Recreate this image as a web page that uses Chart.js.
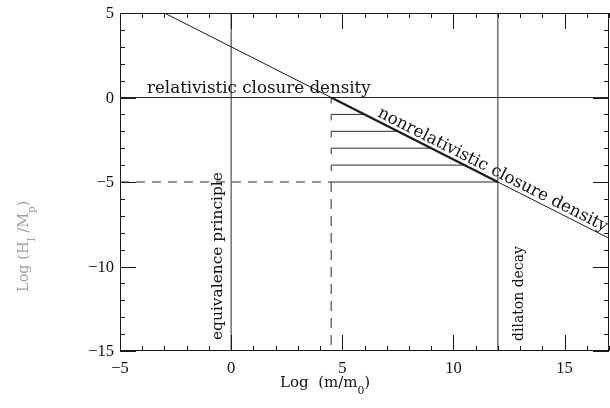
<!DOCTYPE html>
<html><head><meta charset="utf-8">
<script src="https://cdn.jsdelivr.net/npm/chart.js@4"></script>
<style>html,body{margin:0;padding:0;background:#fff}#wrap{width:610px;height:408px}</style>
</head><body><div id="wrap"><canvas id="c" width="610" height="408"></canvas></div>
<script>
// ---- data ----
const xRange = [-5, 17];
const yRange = [-15, 5];
const xTicks = [-5, 0, 5, 10, 15];
const yTicks = [5, 0, -5, -10, -15];
// nonrelativistic closure density line: knots
const diagX = [-3, 4.5, 12, 17];
const diagY = [5, 0, -5, -8.33];
// relativistic closure density
const relX = [-5, 17];
const relY = [0, 0];
// vertical constraint lines
const equivX = 0;
const dilatonX = 12;
// staircase
const stepLevels = [-1, -2, -3, -4, -5];
const stepStart = 4.5;
const stepEnd = [6, 7.5, 9, 10.5, 12];
// dashed guides
const dashY = -5;
const dashYFrom = -5, dashYTo = 4.5;
const dashX = 4.5;
const dashXTop = 0, dashXMid = -5, dashXBottom = -15;

const labels = {
  rel: 'relativistic closure density',
  nonrel: 'nonrelativistic closure density',
  equiv: 'equivalence principle',
  dilaton: 'dilaton decay'
};

// ---- datasets ----
const INK = '#1a1a1a';
function seg(x0, y0, x1, y1, extra) {
  return Object.assign({
    data: [{x: x0, y: y0}, {x: x1, y: y1}],
    showLine: true, pointRadius: 0, borderColor: INK, borderWidth: 1, fill: false
  }, extra || {});
}
const datasets = [];
datasets.push(seg(diagX[0], diagY[0], diagX[1], diagY[1]));
datasets.push(seg(diagX[1], diagY[1], diagX[2], diagY[2], {borderWidth: 2.2}));
datasets.push(seg(diagX[2], diagY[2], diagX[3], diagY[3]));
datasets.push(seg(relX[0], relY[0], relX[1], relY[1], {borderColor: '#2a2a2a'}));
datasets.push(seg(equivX, yRange[0], equivX, yRange[1], {borderColor: '#2a2a2a'}));
datasets.push(seg(dilatonX, yRange[0], dilatonX, yRange[1], {borderColor: '#2a2a2a'}));
stepLevels.forEach((lv, i) => datasets.push(seg(stepStart, lv, stepEnd[i], lv, {borderColor: '#2a2a2a'})));
datasets.push(seg(dashYFrom, dashY, dashYTo, dashY, {borderDash: [9, 7], borderColor: '#2a2a2a'}));
datasets.push(seg(dashX, dashXTop, dashX, dashXMid, {borderDash: [6, 10.9], borderColor: '#2a2a2a'}));
datasets.push(seg(dashX, dashXMid, dashX, dashXBottom, {borderDash: [10, 7], borderColor: '#2a2a2a'}));

const SERIF = '"DejaVu Serif", serif';
const TICKF = '"Liberation Serif", serif';

function fitSize(ctx, text, family, width) {
  ctx.font = '20px ' + family;
  return 20 * width / ctx.measureText(text).width;
}

const deco = {
  id: 'deco',
  afterDraw(chart) {
    const {ctx, chartArea: a, scales: {x, y}} = chart;
    ctx.save();
    ctx.strokeStyle = INK; ctx.lineWidth = 1;
    ctx.strokeRect(a.left + 0.5, a.top + 0.5, a.right - a.left - 1, a.bottom - a.top - 1);
    function ln(x0, y0, x1, y1) { ctx.beginPath(); ctx.moveTo(x0, y0); ctx.lineTo(x1, y1); ctx.stroke(); }
    for (let v = xRange[0]; v <= xRange[1]; v++) {
      const px = Math.round(x.getPixelForValue(v)) + 0.5;
      const L = (v % 5 === 0) ? 16 : 5;
      ln(px, a.bottom, px, a.bottom - L);
      ln(px, a.top, px, a.top + L);
    }
    for (let v = yRange[0]; v <= yRange[1]; v++) {
      const py = Math.round(y.getPixelForValue(v)) + 0.5;
      const L = (v % 5 === 0) ? 16 : 5;
      ln(a.left, py, a.left + L, py);
      ln(a.right, py, a.right - L, py);
    }
    // tick labels
    ctx.fillStyle = '#111';
    ctx.font = '16.5px ' + TICKF;
    ctx.textAlign = 'center'; ctx.textBaseline = 'middle';
    xTicks.forEach(v => {
      ctx.fillText(String(v).replace('-', '\u2212'), x.getPixelForValue(v), a.bottom + 18);
    });
    ctx.textAlign = 'right';
    yTicks.forEach(v => {
      ctx.fillText(String(v).replace('-', '\u2212'), a.left - 6, y.getPixelForValue(v) + 1);
    });
    ctx.textBaseline = 'alphabetic';
    ctx.textAlign = 'left';

    // relativistic closure density
    let s = fitSize(ctx, labels.rel, SERIF, 224);
    ctx.font = s + 'px ' + SERIF;
    ctx.fillText(labels.rel, 147, 93);

    // equivalence principle
    s = fitSize(ctx, labels.equiv, SERIF, 168);
    ctx.save(); ctx.translate(222, 340); ctx.rotate(-Math.PI / 2);
    ctx.font = s + 'px ' + SERIF; ctx.fillText(labels.equiv, 0, 0); ctx.restore();

    // dilaton decay
    s = fitSize(ctx, labels.dilaton, SERIF, 95);
    ctx.save(); ctx.translate(523, 341); ctx.rotate(-Math.PI / 2);
    ctx.font = s + 'px ' + SERIF; ctx.fillText(labels.dilaton, 0, 0); ctx.restore();

    // nonrelativistic along the line
    const p1 = {x: x.getPixelForValue(diagX[1]), y: y.getPixelForValue(diagY[1])};
    const p2 = {x: x.getPixelForValue(diagX[2]), y: y.getPixelForValue(diagY[2])};
    const ang = Math.atan2(p2.y - p1.y, p2.x - p1.x);
    const t = 0.262;
    const sx = p1.x + t * (p2.x - p1.x) + Math.sin(ang) * 4;
    const sy = p1.y + t * (p2.y - p1.y) - Math.cos(ang) * 4;
    s = fitSize(ctx, labels.nonrel, SERIF, 256);
    ctx.save(); ctx.translate(sx, sy); ctx.rotate(ang);
    ctx.font = s + 'px ' + SERIF; ctx.fillText(labels.nonrel, 0, 0); ctx.restore();

    function rich(parts, x0, y0, size, family) {
      let cx = x0;
      parts.forEach(p => {
        const fs = p.sub ? size * 0.72 : size;
        ctx.font = fs + 'px ' + family;
        ctx.fillText(p.t, cx, y0 + (p.sub ? size * 0.45 : 0));
        cx += ctx.measureText(p.t).width;
      });
    }
    // x title
    ctx.fillStyle = '#111';
    rich([{t: 'Log  (m/m'}, {t: '0', sub: true}, {t: ')'}], 280, 387, 15, SERIF);

    // y title (faint)
    ctx.save(); ctx.translate(28, 292); ctx.rotate(-Math.PI / 2);
    ctx.fillStyle = '#a0a0a0';
    rich([{t: 'Log (H'}, {t: 'I', sub: true}, {t: ' /M'}, {t: 'p', sub: true}, {t: ')'}], 0, 0, 14.5, SERIF);
    ctx.restore();

    ctx.restore();
  }
};

new Chart(document.getElementById('c'), {
  type: 'scatter',
  data: {datasets},
  options: {
    responsive: false, animation: false, devicePixelRatio: 1,
    layout: {padding: {left: 120, top: 13, right: 1, bottom: 57}},
    plugins: {legend: {display: false}, tooltip: {enabled: false}},
    scales: {
      x: {type: 'linear', min: xRange[0], max: xRange[1], display: false},
      y: {type: 'linear', min: yRange[0], max: yRange[1], display: false}
    },
    elements: {line: {tension: 0, borderCapStyle: 'butt'}}
  },
  plugins: [deco]
});
</script>
</body></html>
